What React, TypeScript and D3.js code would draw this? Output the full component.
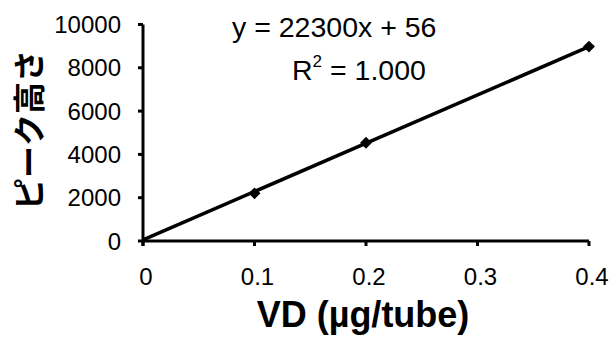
import React from "react";
import * as d3 from "d3";

const xValues = [0.1, 0.2, 0.4];
const yValues = [2200, 4540, 8980];
const xTicks = [0, 0.1, 0.2, 0.3, 0.4];
const yTicks = [0, 2000, 4000, 6000, 8000, 10000];
const slope = 22300;
const intercept = 56;
const trendX = [0, 0.4];
const eqLine1 = "y = 22300x + 56";
const xTitle = "VD (µg/tube)";
const yTitle = "ピーク高さ";

const W = 615;
const H = 337;
const FONT = "'Liberation Sans', Arial, Helvetica, sans-serif";

export default function App() {
  const x = d3.scaleLinear().domain([0, 0.4]).range([143, 589]);
  const y = d3.scaleLinear().domain([0, 10000]).range([241, 24.5]);
  const pts = xValues.map((v, i) => [v, yValues[i]] as [number, number]);
  const trend = trendX.map((v) => [v, slope * v + intercept] as [number, number]);
  const line = d3
    .line<[number, number]>()
    .x((d) => x(d[0]))
    .y((d) => y(d[1]));
  const diamond = d3.symbol().type(d3.symbolSquare).size(70)();
  const fmtX = (v: number) => (v === 0 ? "0" : d3.format(".1f")(v));

  return (
    <svg
      width={W}
      height={H}
      style={{ position: "absolute", left: 0, top: 0, background: "#fff" }}
    >
      <rect width={W} height={H} fill="#fff" />
      {/* axes */}
      <line x1={x(0)} x2={x(0)} y1={y(10000)} y2={y(0) + 5} stroke="#000" strokeWidth={3} />
      <line x1={x(0)} x2={x(0.4)} y1={y(0)} y2={y(0)} stroke="#000" strokeWidth={3} />
      {yTicks.map((t) => (
        <g key={"y" + t}>
          <line x1={x(0) - 5} x2={x(0)} y1={y(t)} y2={y(t)} stroke="#000" strokeWidth={3} />
          <text
            x={121}
            y={y(t)}
            dy="0.36em"
            textAnchor="end"
            fontFamily={FONT}
            fontSize={24}
            fill="#000"
          >
            {t}
          </text>
        </g>
      ))}
      {xTicks.map((t) => (
        <g key={"x" + t}>
          <line x1={x(t)} x2={x(t)} y1={y(0)} y2={y(0) + 5} stroke="#000" strokeWidth={3} />
          <text
            x={x(t) + 3}
            y={285}
            textAnchor="middle"
            fontFamily={FONT}
            fontSize={24}
            fill="#000"
          >
            {fmtX(t)}
          </text>
        </g>
      ))}
      {/* trendline */}
      <path d={line(trend) || ""} fill="none" stroke="#000" strokeWidth={3.5} />
      {/* points */}
      {pts.map((p, i) => (
        <path
          key={"p" + i}
          d={diamond || ""}
          transform={`translate(${x(p[0])},${y(p[1])}) rotate(45)`}
          fill="#000"
        />
      ))}
      {/* equation */}
      <text x={232} y={37} fontFamily={FONT} fontSize={28.5} fill="#000">
        {eqLine1}
      </text>
      <text x={292} y={80} fontFamily={FONT} fontSize={28.5} fill="#000">
        R
        <tspan fontSize={17} dy={-13}>2</tspan>
        <tspan dy={13}> = 1.000</tspan>
      </text>
      {/* axis titles */}
      <text
        x={363}
        y={327}
        textAnchor="middle"
        fontFamily={FONT}
        fontWeight="bold"
        fontSize={36}
        fill="#000"
      >
        {xTitle}
      </text>
      <text
        transform="translate(41,130) rotate(-90)"
        textAnchor="middle"
        fontFamily="'Noto Sans CJK JP', sans-serif"
        fontWeight="bold"
        fontSize={32}
        fill="#000"
      >
        {yTitle}
      </text>
    </svg>
  );
}
